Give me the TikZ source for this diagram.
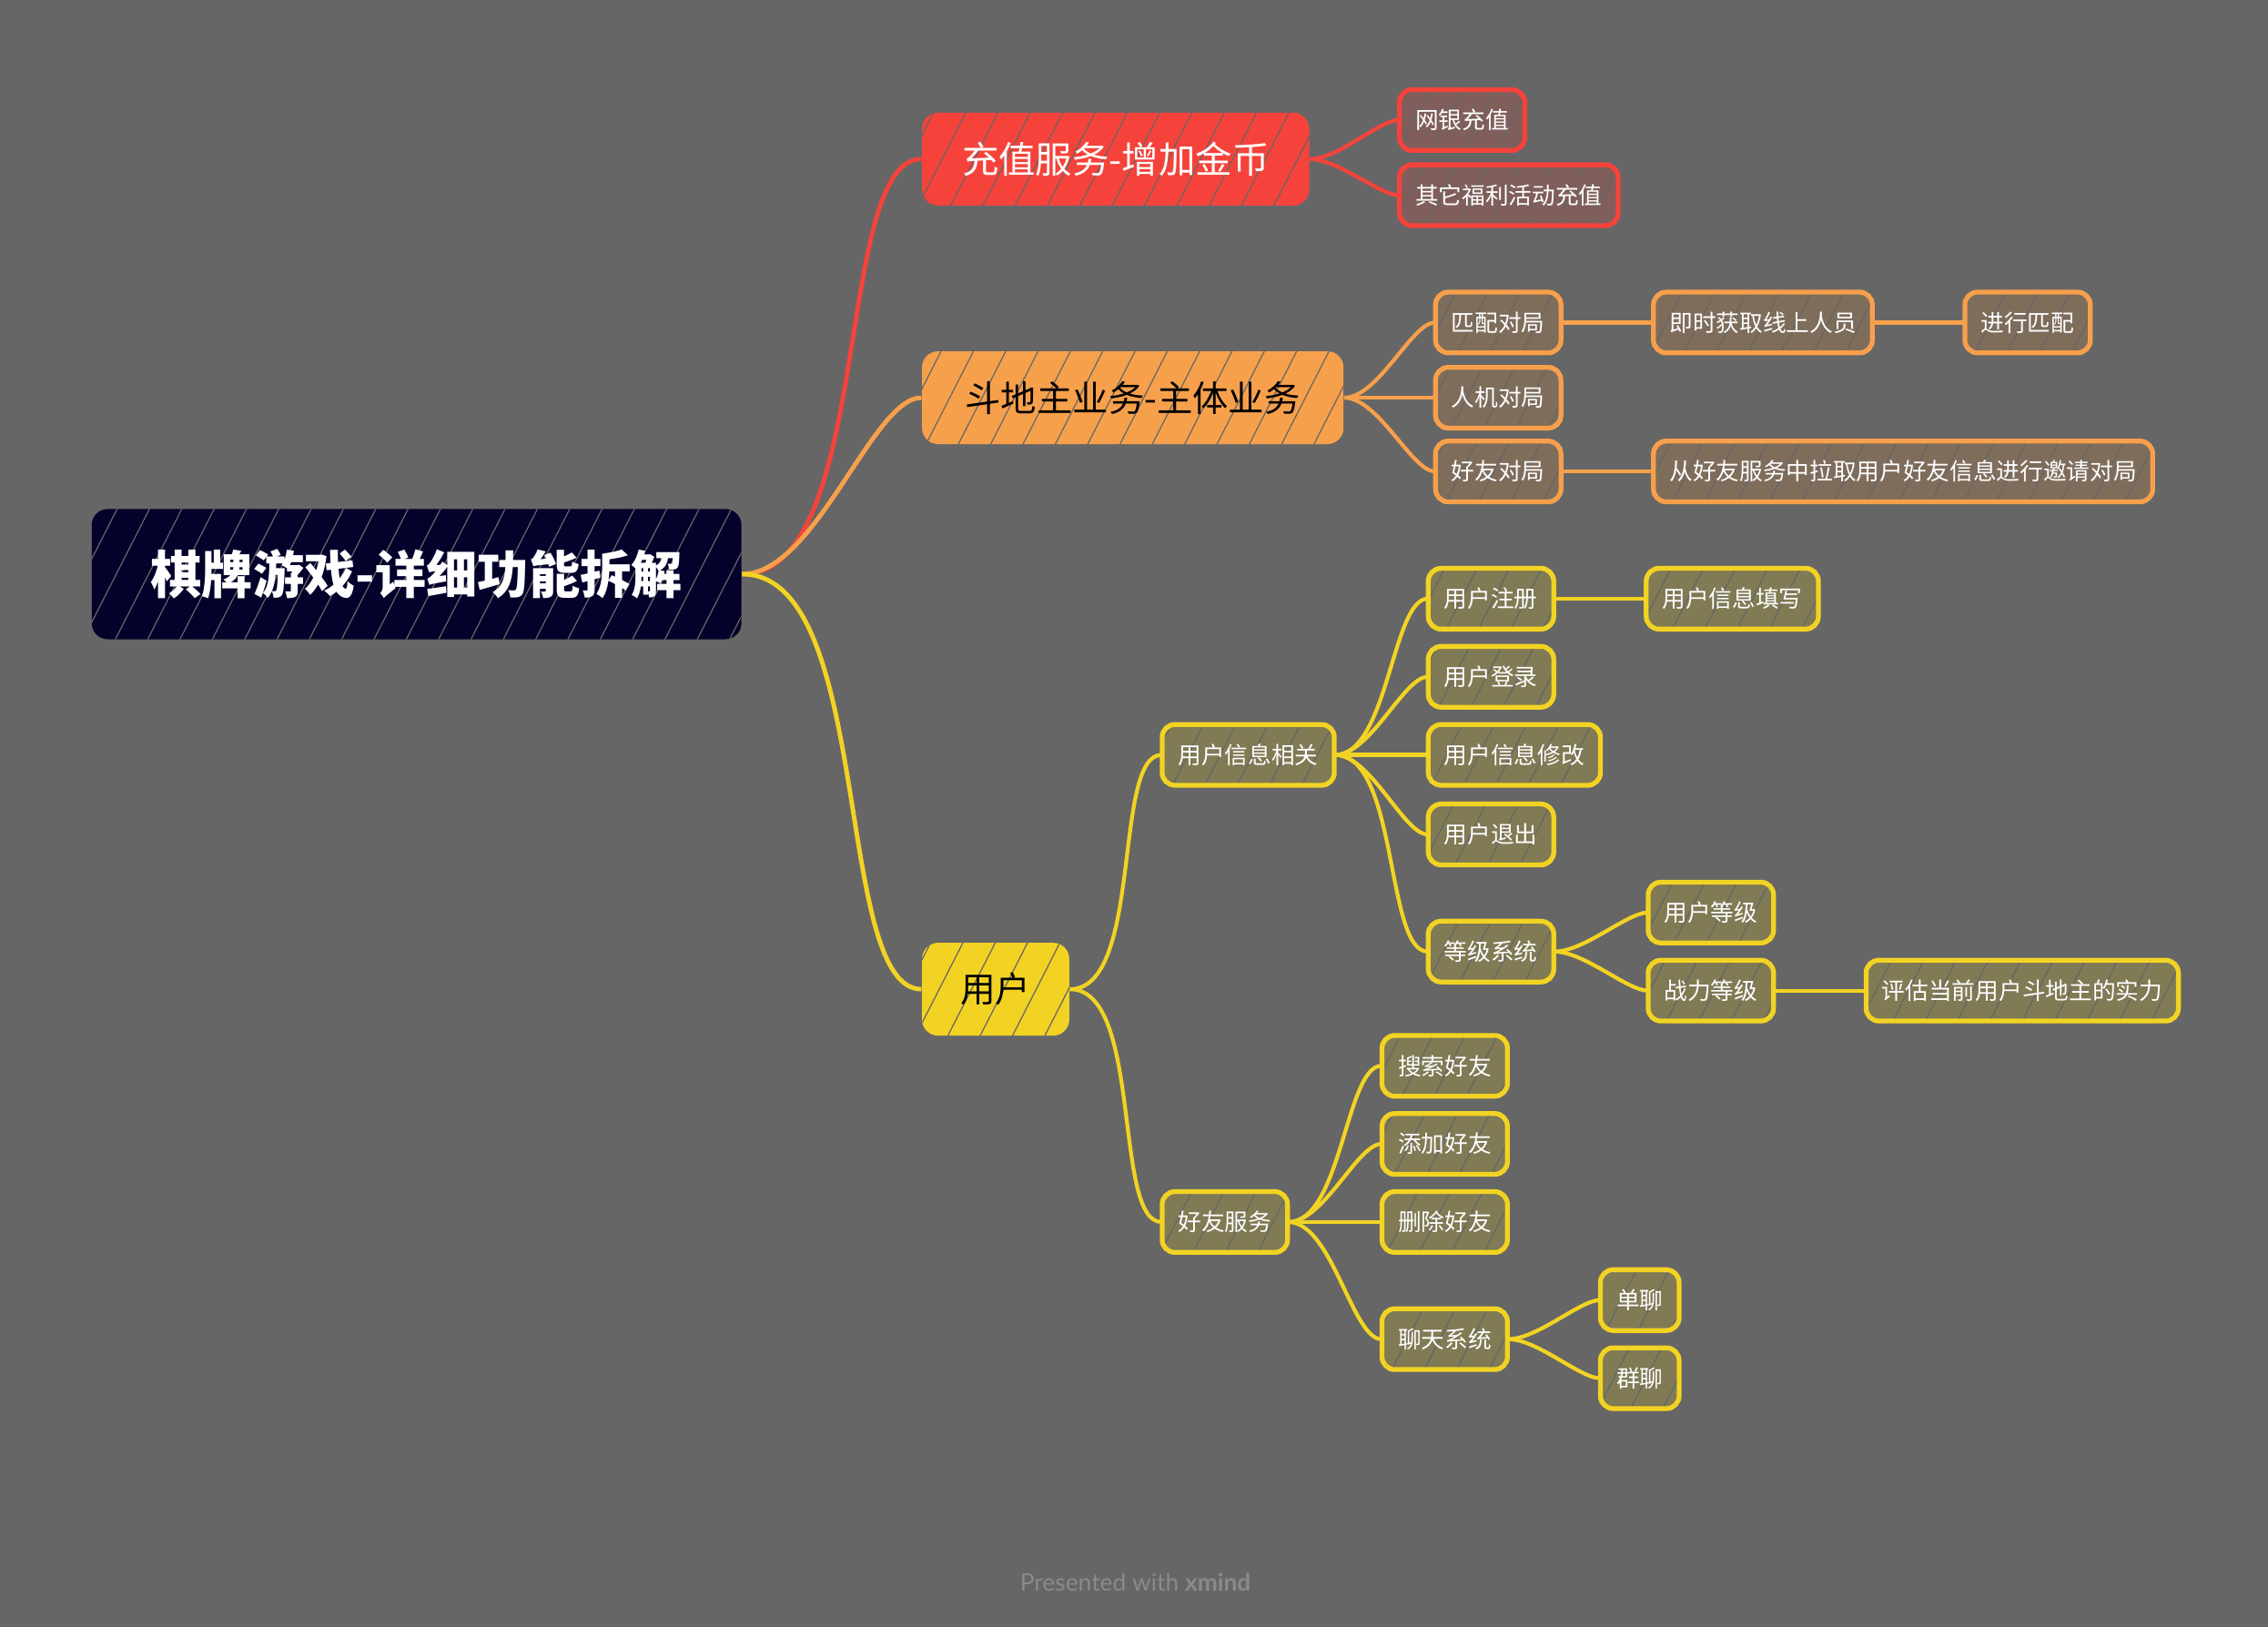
\documentclass[tikz,border=0pt]{standalone}
\usepackage{fontspec}
\setmainfont{Noto Sans CJK SC}
\newfontfamily\footfont{Lato}
\usetikzlibrary{positioning,patterns.meta}
\definecolor{bggray}{HTML}{666666}
\definecolor{navy}{HTML}{03022B}
\definecolor{chred}{HTML}{F5433B}
\definecolor{chorange}{HTML}{F7A04B}
\definecolor{chyellow}{HTML}{F2D323}
\definecolor{kidred}{HTML}{7F5E5B}
\definecolor{kidorange}{HTML}{7F6D5C}
\definecolor{kidyellow}{HTML}{807A55}
\definecolor{footgray}{HTML}{8A8A8A}
\tikzset{hatch/.style={
    % the sketchy fill: gaps that show the background
    postaction={pattern={Lines[angle=63,distance=9pt,line width=0.35pt]},
      pattern color=bggray}
    },
    rootbox/.style={
    % The shape:
    rectangle, rounded corners=5pt,
    minimum width=203pt, minimum height=40.7pt,
    % The filling:
    fill=navy, hatch,
    % Font
    text=white, font=\bfseries\fontsize{16}{19}\selectfont
    },
    topicbox/.style={
    rectangle, rounded corners=5pt,
    inner xsep=12.5pt, inner ysep=0pt,
    minimum height=29pt,
    anchor=west, hatch
    },
    kidbox/.style={
    rectangle, rounded corners=4pt,
    inner xsep=5pt, inner ysep=0pt,
    minimum height=19pt,
    anchor=west,
    text=white, font=\fontsize{7.3}{9}\selectfont,
    hatch
    },
    % border drawn again on top of the hatching
    redkid/.style={kidbox, fill=kidred, postaction={draw=chred, line width=1.5pt}},
    orangekid/.style={kidbox, fill=kidorange, postaction={draw=chorange, line width=1.5pt}},
    yellowkid/.style={kidbox, fill=kidyellow, postaction={draw=chyellow, line width=1.5pt}},
    branch/.style={line width=1.2pt, out=0, in=180, out looseness=0.75, in looseness=0.5},
    mainbranch/.style={branch, line width=1.4pt},
}

\begin{document}
\begin{tikzpicture}[x=0.01589cm, y=-0.01589cm, node distance=0pt and 28.5pt]
  \fill[bggray] (0,0) rectangle (1568,1125);
  \useasboundingbox (0,0) rectangle (1568,1125);

  \node (root) [rootbox] at (288,397) {棋牌游戏-详细功能拆解};

  % first level
  \node (pay)   [topicbox, fill=chred, text=white, font=\fontsize{11.5}{14}\selectfont] at (637,110) {充值服务-增加金币};
  \node (game)  [topicbox, fill=chorange, font=\fontsize{11.2}{14}\selectfont, inner xsep=13.5pt] at (637,275) {斗地主业务-主体业务};
  \node (user)  [topicbox, fill=chyellow, inner xsep=12pt, font=\fontsize{11}{14}\selectfont] at (637,684) {用户};

  % recharge
  \node (bank)  [redkid] at (967,83)  {网银充值};
  \node (promo) [redkid] at (967,135) {其它福利活动充值};

  % landlord game
  \node (match)   [orangekid] at (992,223) {匹配对局};
  \node (online)  [orangekid, right=of match]  {即时获取线上人员};
  \node (domatch) [orangekid, right=of online] {进行匹配};
  \node (robot)   [orangekid] at (992,275) {人机对局};
  \node (friendg) [orangekid] at (992,326) {好友对局};
  \node (invite)  [orangekid, right=of friendg] {从好友服务中拉取用户好友信息进行邀请对局};

  % user
  \node (info)    [yellowkid] at (803,522) {用户信息相关};
  \node (friends) [yellowkid] at (803,845) {好友服务};

  \node (reg)     [yellowkid] at (987,414) {用户注册};
  \node (fill)    [yellowkid, right=of reg] {用户信息填写};
  \node (login)   [yellowkid] at (987,468) {用户登录};
  \node (edit)    [yellowkid] at (987,522) {用户信息修改};
  \node (logout)  [yellowkid] at (987,577) {用户退出};
  \node (level)   [yellowkid] at (987,658) {等级系统};
  \node (ulevel)  [yellowkid] at (1139,631) {用户等级};
  \node (power)   [yellowkid] at (1139,685) {战力等级};
  \node (eval)    [yellowkid, right=of power] {评估当前用户斗地主的实力};

  \node (search)  [yellowkid] at (955,737) {搜索好友};
  \node (add)     [yellowkid] at (955,791) {添加好友};
  \node (del)     [yellowkid] at (955,845) {删除好友};
  \node (chat)    [yellowkid] at (955,926) {聊天系统};
  \node (single)  [yellowkid] at (1106,899) {单聊};
  \node (group)   [yellowkid] at (1106,953) {群聊};

  % connectors
  \path (root.east) edge[mainbranch, draw=chred] (pay.west)
        (root.east) edge[mainbranch, draw=chorange] (game.west)
        (root.east) edge[mainbranch, draw=chyellow] (user.west);

  \path[draw=chred] (pay.east) edge[branch] (bank.west)
        (pay.east) edge[branch] (promo.west);

  \path[draw=chorange] (game.east) edge[branch] (match.west)
        (game.east) edge[branch] (robot.west)
        (game.east) edge[branch] (friendg.west)
        (match.east) edge[branch] (online.west)
        (online.east) edge[branch] (domatch.west)
        (friendg.east) edge[branch] (invite.west);

  \path[draw=chyellow] (user.east) edge[branch] (info.west)
        (user.east) edge[branch] (friends.west)
        (info.east) edge[branch] (reg.west)
        (info.east) edge[branch] (login.west)
        (info.east) edge[branch] (edit.west)
        (info.east) edge[branch] (logout.west)
        (info.east) edge[branch] (level.west)
        (reg.east) edge[branch] (fill.west)
        (level.east) edge[branch] (ulevel.west)
        (level.east) edge[branch] (power.west)
        (power.east) edge[branch] (eval.west)
        (friends.east) edge[branch] (search.west)
        (friends.east) edge[branch] (add.west)
        (friends.east) edge[branch] (del.west)
        (friends.east) edge[branch] (chat.west)
        (chat.east) edge[branch] (single.west)
        (chat.east) edge[branch] (group.west);

  \node (credit) at (785,1094) {\footfont\fontsize{7.5}{9}\selectfont\color{footgray}Presented with \textbf{xmind}};
\end{tikzpicture}
\end{document}
